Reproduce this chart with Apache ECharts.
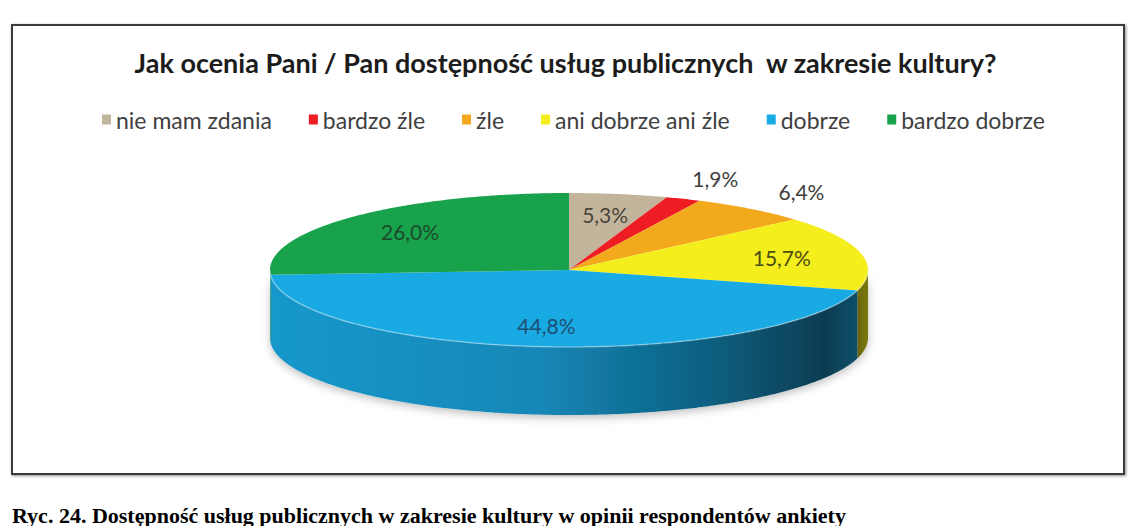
<!DOCTYPE html>
<html><head><meta charset="utf-8">
<script src="https://cdn.jsdelivr.net/npm/echarts@6/dist/echarts.min.js"></script>
<style>html,body{margin:0;padding:0;background:#fff}#c{width:1131px;height:526px}</style>
</head><body><div id="c"></div>
<script>
// ---- data ----
const categories = ['nie mam zdania', 'bardzo źle', 'źle', 'ani dobrze ani źle', 'dobrze', 'bardzo dobrze'];
const values = [5.3, 1.9, 6.4, 15.7, 44.8, 26.0];
// ---- style ----
const colors = ['#c3b59c', '#ee1d24', '#f2a91c', '#f3ee1c', '#19a9e3', '#17a24b'];
const labelColors = ['#4a4439', '#404040', '#404040', '#4b4a12', '#1d4f74', '#1d4b2c'];
const labelOutside = [false, true, true, false, false, false];
const titleText = 'Jak ocenia Pani / Pan dostępność usług publicznych  w zakresie kultury?';
const captionText = 'Ryc. 24. Dostępność usług publicznych w zakresie kultury w opinii respondentów ankiety';

const G = { cx: 569, cy: 270, rx: 299, ry: 77, depth: 68, rIn: 0.73, rOut: 1.28 };

function shade(hex, f) {
  const n = parseInt(hex.slice(1), 16);
  const r = Math.round(((n >> 16) & 255) * f), g = Math.round(((n >> 8) & 255) * f), b = Math.round((n & 255) * f);
  return 'rgb(' + r + ',' + g + ',' + b + ')';
}
function pt(t, dy, r) {
  r = r == null ? 1 : r;
  const a = t * 2 * Math.PI;
  return [G.cx + G.rx * r * Math.sin(a), G.cy - G.ry * r * Math.cos(a) + (dy || 0)];
}
function arc(t0, t1, dy) {
  const n = Math.max(2, Math.ceil((t1 - t0) * 720));
  const pts = [];
  for (let k = 0; k <= n; k++) pts.push(pt(t0 + (t1 - t0) * k / n, dy));
  return pts;
}
function fmt(v) { return v.toFixed(1).replace('.', ',') + '%'; }

function makeSlice(i, s, e, v) {
  const children = [];
  const a = Math.max(s, 0.25), b = Math.min(e, 0.75);
  if (b > a) {
    const side = arc(a, b, 0).concat(arc(a, b, G.depth).reverse());
    const grad = new echarts.graphic.LinearGradient(G.cx - G.rx, 0, G.cx + G.rx, 0, [
      { offset: 0, color: shade(colors[i], 0.9) },
      { offset: 0.45, color: shade(colors[i], 0.8) },
      { offset: 0.75, color: shade(colors[i], 0.55) },
      { offset: 0.93, color: shade(colors[i], 0.36) },
      { offset: 1, color: shade(colors[i], 0.5) }
    ], true);
    children.push({ type: 'polygon', shape: { points: side }, z2: 1,
      style: { fill: grad, shadowBlur: 8, shadowColor: 'rgba(0,0,0,0.25)', shadowOffsetY: 3 } });
    children.push({ type: 'polyline', shape: { points: arc(a, b, 0) }, z2: 3,
      style: { fill: null, stroke: 'rgba(255,255,255,0.35)', lineWidth: 1.5 } });
  }
  const top = [[G.cx, G.cy]].concat(arc(s, e, 0));
  children.push({ type: 'polygon', shape: { points: top }, z2: 2, style: { fill: colors[i] } });
  const m = (s + e) / 2;
  const lp = pt(m, 0, labelOutside[i] ? G.rOut : G.rIn);
  children.push({ type: 'text', x: lp[0], y: lp[1], z2: 100,
    style: { text: fmt(v), fill: labelColors[i], font: '21px Lato', align: 'center', verticalAlign: 'middle' } });
  return { type: 'group', children: children };
}

const total = values.reduce((p, q) => p + q, 0);
let acc = 0;
const series = categories.map((name, i) => {
  const s = acc / total, e = (acc + values[i]) / total;
  acc += values[i];
  return {
    type: 'custom', name: name, coordinateSystem: 'none', silent: true,
    itemStyle: { color: colors[i] },
    data: [[s, e, values[i]]],
    renderItem: (params, api) => makeSlice(i, api.value(0), api.value(1), api.value(2))
  };
});

const chart = echarts.init(document.getElementById('c'), null, { renderer: 'svg' });
chart.setOption({
  backgroundColor: '#fff',
  animation: false,
  title: { text: titleText, left: 'center', top: 44,
    textStyle: { fontFamily: 'Lato', fontWeight: 'bold', fontSize: 27, color: '#1c1c1c' } },
  legend: { data: categories, top: 103, left: 97, icon: 'rect', itemWidth: 9, itemHeight: 10, itemGap: 37,
    selectedMode: false,
    textStyle: { fontFamily: 'Lato', fontSize: 23, color: '#404040' } },
  graphic: [
    { type: 'rect', silent: true, z: -1,
      shape: { x: 12, y: 25, width: 1112, height: 449 },
      style: { fill: '#fff', stroke: '#3a3a3a', lineWidth: 2, shadowBlur: 3, shadowColor: 'rgba(0,0,0,0.45)', shadowOffsetX: 1, shadowOffsetY: 1 } },
    { type: 'text', silent: true, x: 12, y: 515,
      style: { text: captionText, font: 'bold 22px "Liberation Serif"', fill: '#000', verticalAlign: 'middle' } }
  ],
  series: series
});
</script>
</body></html>
